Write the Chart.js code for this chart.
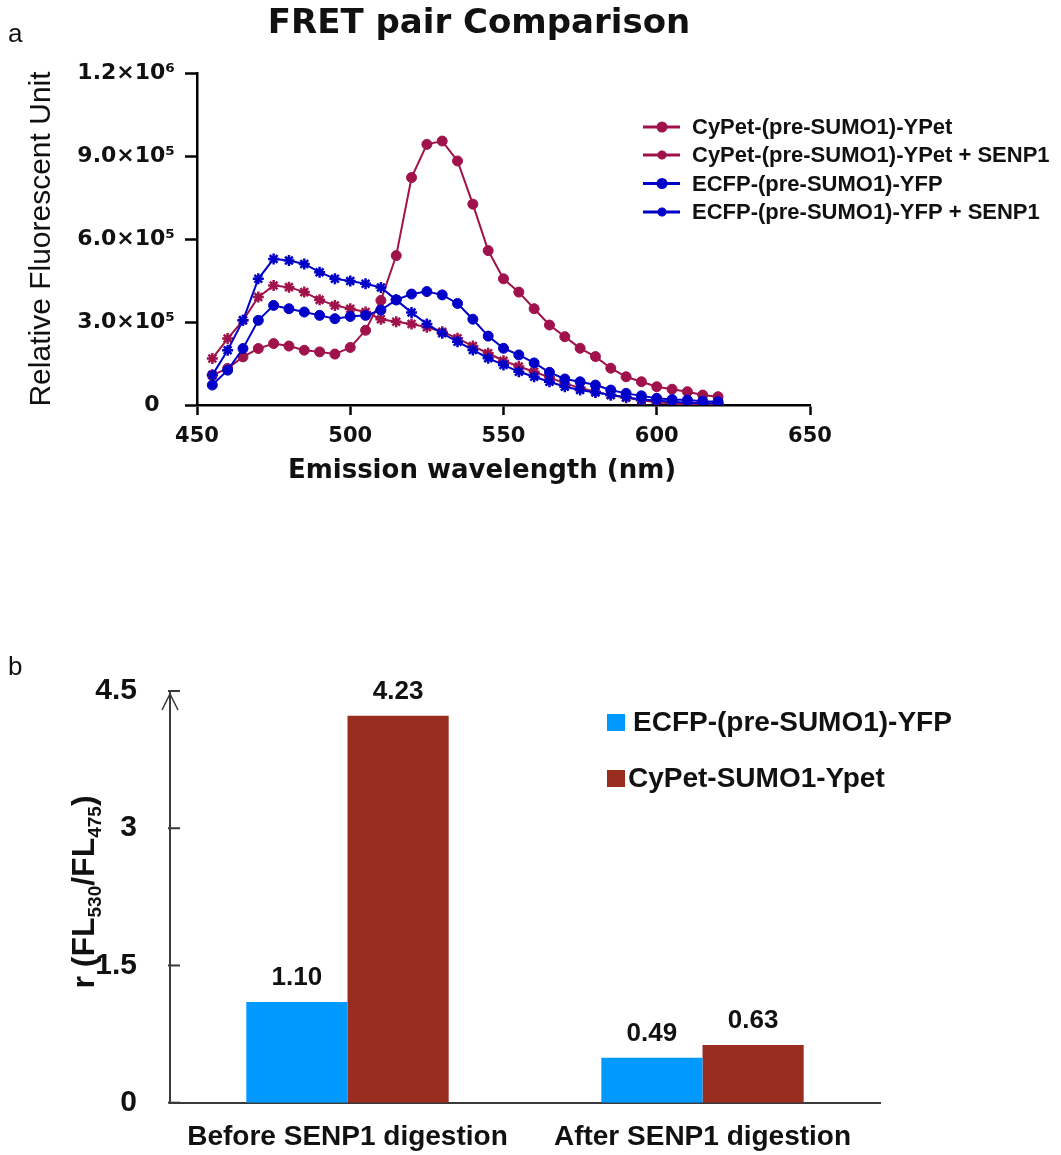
<!DOCTYPE html>
<html>
<head>
<meta charset="utf-8">
<title>FRET pair Comparison</title>
<script src="https://cdn.jsdelivr.net/npm/chart.js@4.4.0/dist/chart.umd.min.js"></script>
<style>
  body { margin: 0; background: #fff; }
  #wrap { position: relative; width: 1061px; height: 1155px; }
  #fretChart { position: absolute; left: 0; top: 0; }
  #ratioChart { position: absolute; left: 0; top: 640px; }
</style>
</head>
<body>
<div id="wrap">
  <canvas id="fretChart" width="1061" height="500"></canvas>
  <canvas id="ratioChart" width="1061" height="515"></canvas>
</div>
<script>
// ---- panel a: emission spectra (455-620 nm, every 5 nm) ----
const wavelength = [455, 460, 465, 470, 475, 480, 485, 490, 495, 500, 505, 510, 515, 520, 525, 530, 535,
                    540, 545, 550, 555, 560, 565, 570, 575, 580, 585, 590, 595, 600, 605, 610, 615, 620];

const cypet = [108000, 132000, 174000, 204000, 222000, 213000, 198000, 192000, 184000, 208000, 270000,
               378000, 540000, 822000, 942000, 954000, 882000, 726000, 558000, 456000, 408000, 348000,
               289000, 247000, 205000, 175000, 133000, 102000, 84000, 66000, 57000, 48000, 36000, 30000];

const cypetSenp1 = [168000, 240000, 306000, 390000, 432000, 426000, 408000, 380000, 360000, 348000, 336000,
                    310000, 301000, 293000, 281000, 265000, 241000, 213000, 187000, 160000, 139000, 120000,
                    100000, 78000, 62000, 48000, 36000, 26000, 17000, 10000, 5000, 2000, 0, 0];

const ecfp = [72000, 126000, 204000, 306000, 360000, 348000, 336000, 324000, 312000, 320000, 324000,
              343000, 380000, 401000, 410000, 398000, 367000, 310000, 249000, 205000, 181000, 152000,
              118000, 94000, 84000, 72000, 54000, 42000, 33000, 24000, 20000, 18000, 14000, 12000];

const ecfpSenp1 = [108000, 198000, 306000, 456000, 528000, 522000, 510000, 480000, 456000, 448000, 438000,
                   425000, 380000, 334000, 293000, 259000, 229000, 199000, 169000, 145000, 120000, 102000,
                   84000, 66000, 54000, 45000, 36000, 28000, 20000, 16000, 12000, 8000, 6000, 6000];

const fluorTickValues = [0, 300000, 600000, 900000, 1200000];
const fluorTickLabels = ['0  ', '3.0×10⁵', '6.0×10⁵', '9.0×10⁵', '1.2×10⁶'];

// ---- panel b: ratio FL530/FL475 ----
const stages = ['Before SENP1 digestion', 'After SENP1 digestion'];
const ecfpRatio = [1.10, 0.49];
const cypetRatio = [4.23, 0.63];
const ratioTickLabels = ['0', '1.5', '3', '4.5'];

const RED = '#A0124B';
const BLUE = '#0000C8';
const ARIAL = 'Liberation Sans, Arial, sans-serif';
const WIDE = 'DejaVu Sans, Verdana, sans-serif';

function toPoints(values) {
    return wavelength.map((w, i) => ({ x: w, y: values[i] }));
}

function lineSet(label, values, color, style, order) {
    return {
        label: label,
        data: toPoints(values),
        borderColor: color,
        backgroundColor: color,
        pointBackgroundColor: color,
        pointBorderColor: color,
        borderWidth: 2,
        pointStyle: style,
        pointRadius: style === 'circle' ? 5 : 5.5,
        pointBorderWidth: style === 'circle' ? 1 : 2.5,
        tension: 0,
        order: order
    };
}

// title, panel letter, x title and legend for panel a
const fretExtras = {
    id: 'fretExtras',
    afterDraw(chart) {
        const ctx = chart.ctx;
        ctx.save();
        ctx.fillStyle = '#111';
        ctx.textBaseline = 'alphabetic';
        ctx.textAlign = 'center';
        ctx.font = 'bold 34px ' + WIDE;
        ctx.fillText('FRET pair Comparison', 479, 33);

        ctx.font = 'bold 26px ' + WIDE;
        ctx.fillText('Emission wavelength (nm)', 482, 478);

        ctx.textAlign = 'left';
        ctx.font = '26px ' + ARIAL;
        ctx.fillText('a', 8, 42);

        // legend
        const rows = [127, 155, 183.5, 212];
        ctx.font = 'bold 22px ' + ARIAL;
        ctx.textBaseline = 'middle';
        chart.data.datasets.forEach((ds, i) => {
            const y = rows[i];
            ctx.strokeStyle = ds.borderColor;
            ctx.fillStyle = ds.borderColor;
            ctx.lineWidth = 3;
            ctx.beginPath();
            ctx.moveTo(643, y);
            ctx.lineTo(680, y);
            ctx.stroke();
            Chart.helpers.drawPoint(ctx, {
                pointStyle: ds.pointStyle,
                radius: ds.pointStyle === 'circle' ? 4 : 4.5,
                borderWidth: 2,
                rotation: 0
            }, 662, y);
            ctx.fillStyle = '#111';
            ctx.fillText(ds.label, 692, y + 1);
        });
        ctx.restore();
    }
};

new Chart(document.getElementById('fretChart'), {
    type: 'line',
    data: {
        datasets: [
            lineSet('CyPet-(pre-SUMO1)-YPet', cypet, RED, 'circle', 3),
            lineSet('CyPet-(pre-SUMO1)-YPet + SENP1', cypetSenp1, RED, 'star', 2),
            lineSet('ECFP-(pre-SUMO1)-YFP', ecfp, BLUE, 'circle', 1),
            lineSet('ECFP-(pre-SUMO1)-YFP + SENP1', ecfpSenp1, BLUE, 'star', 0)
        ]
    },
    options: {
        responsive: false,
        animation: false,
        layout: { padding: { top: 73, right: 251, left: 0, bottom: 0 } },
        plugins: {
            legend: { display: false },
            tooltip: { enabled: false }
        },
        scales: {
            x: {
                type: 'linear',
                min: 450,
                max: 650,
                ticks: {
                    stepSize: 50,
                    padding: 9,
                    color: '#111',
                    font: { family: WIDE, size: 21, weight: 'bold' }
                },
                grid: { drawOnChartArea: false, color: '#000', tickLength: 10, tickWidth: 2.5 },
                border: { color: '#000', width: 2.5 },
                afterFit(scale) { scale.height = 95; }
            },
            y: {
                min: 0,
                max: 1200000,
                afterBuildTicks(scale) {
                    scale.ticks = fluorTickValues.map(v => ({ value: v }));
                },
                ticks: {
                    padding: 10,
                    color: '#111',
                    font: { family: WIDE, size: 22, weight: 'bold' },
                    callback: (v) => fluorTickLabels[fluorTickValues.indexOf(v)]
                },
                grid: { drawOnChartArea: false, color: '#000', tickLength: 12, tickWidth: 2.5 },
                border: { color: '#000', width: 2.5 },
                title: {
                    display: true,
                    text: 'Relative Fluorescent Unit',
                    color: '#111',
                    padding: { top: 24, bottom: 0 },
                    font: { family: ARIAL, size: 30 }
                },
                afterFit(scale) { scale.width = 197; }
            }
        }
    },
    plugins: [fretExtras]
});

// arrow, inner ticks, y title with subscripts, value labels and legend for panel b
const ratioExtras = {
    id: 'ratioExtras',
    afterDraw(chart) {
        const ctx = chart.ctx;
        const yScale = chart.scales.y;
        const area = chart.chartArea;
        const axisX = area.left;
        ctx.save();
        ctx.strokeStyle = '#3a3a3a';
        ctx.lineWidth = 2;
        yScale.ticks.forEach(t => {
            const y = yScale.getPixelForValue(t.value);
            ctx.beginPath();
            ctx.moveTo(axisX - 2, y);
            ctx.lineTo(axisX + 10, y);
            ctx.stroke();
        });
        // arrow head on the y axis
        ctx.lineWidth = 1.5;
        ctx.beginPath();
        ctx.moveTo(axisX - 8, area.top + 19);
        ctx.lineTo(axisX, area.top + 3);
        ctx.lineTo(axisX + 8, area.top + 19);
        ctx.stroke();

        // y title: r (FL530/FL475)
        const parts = [
            ['r (FL', false], ['530', true], ['/FL', false], ['475', true], [')', false]
        ];
        const mainFont = 'bold 32px ' + ARIAL;
        const subFont = 'bold 19px ' + ARIAL;
        let total = 0;
        parts.forEach(p => {
            ctx.font = p[1] ? subFont : mainFont;
            total += ctx.measureText(p[0]).width;
        });
        ctx.translate(94, 252);
        ctx.rotate(-Math.PI / 2);
        ctx.fillStyle = '#111';
        ctx.textAlign = 'left';
        ctx.textBaseline = 'alphabetic';
        let x = -total / 2;
        parts.forEach(p => {
            ctx.font = p[1] ? subFont : mainFont;
            ctx.fillText(p[0], x, p[1] ? 7 : 0);
            x += ctx.measureText(p[0]).width;
        });
        ctx.setTransform(1, 0, 0, 1, 0, 0);

        // value labels
        ctx.fillStyle = '#111';
        ctx.textAlign = 'center';
        ctx.textBaseline = 'alphabetic';
        ctx.font = 'bold 26px ' + ARIAL;
        chart.data.datasets.forEach((ds, di) => {
            chart.getDatasetMeta(di).data.forEach((bar, i) => {
                ctx.fillText(ds.data[i].toFixed(2), bar.x, bar.y - 17);
            });
        });

        // legend
        const legendRows = [
            { y: 74, textX: 633 },
            { y: 130, textX: 628 }
        ];
        ctx.textAlign = 'left';
        ctx.textBaseline = 'middle';
        ctx.font = 'bold 28px ' + ARIAL;
        chart.data.datasets.forEach((ds, i) => {
            const row = legendRows[i];
            ctx.fillStyle = ds.backgroundColor;
            ctx.fillRect(607, row.y, 18, 17);
            ctx.fillStyle = '#111';
            ctx.fillText(ds.label, row.textX, row.y + 9);
        });

        ctx.font = '26px ' + ARIAL;
        ctx.textBaseline = 'alphabetic';
        ctx.fillText('b', 8, 35);
        ctx.restore();
    }
};

new Chart(document.getElementById('ratioChart'), {
    type: 'bar',
    data: {
        labels: stages,
        datasets: [
            { label: 'ECFP-(pre-SUMO1)-YFP', data: ecfpRatio, backgroundColor: '#0099FF' },
            { label: 'CyPet-SUMO1-Ypet', data: cypetRatio, backgroundColor: '#992D1F' }
        ]
    },
    options: {
        responsive: false,
        animation: false,
        categoryPercentage: 0.57,
        barPercentage: 1,
        layout: { padding: { top: 46.7, right: 181, left: 0, bottom: 0 } },
        plugins: {
            legend: { display: false },
            tooltip: { enabled: false }
        },
        scales: {
            x: {
                grid: { display: false, drawTicks: false },
                border: { color: '#3a3a3a', width: 2 },
                ticks: {
                    padding: 18,
                    color: '#111',
                    font: { family: ARIAL, size: 28, weight: 'bold' }
                },
                afterFit(scale) { scale.height = 52.3; }
            },
            y: {
                min: 0,
                max: 4.5,
                ticks: {
                    stepSize: 1.5,
                    padding: 33,
                    color: '#111',
                    font: { family: ARIAL, size: 30, weight: 'bold' },
                    callback: (v, i) => ratioTickLabels[i]
                },
                grid: { display: false, drawTicks: false },
                border: { color: '#3a3a3a', width: 2 },
                afterFit(scale) { scale.width = 170; }
            }
        }
    },
    plugins: [ratioExtras]
});
</script>
</body>
</html>
